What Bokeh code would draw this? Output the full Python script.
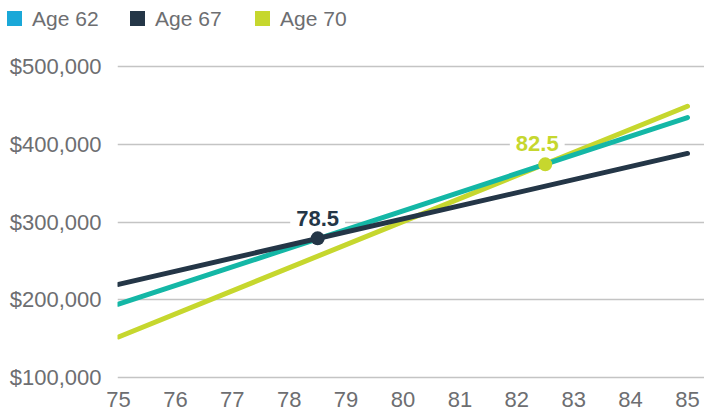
from bokeh.plotting import figure
from bokeh.layouts import column
from bokeh.models import (FixedTicker, NumeralTickFormatter, Label, Range1d, Div)
from bokeh.embed import file_html
from bokeh.resources import INLINE

# ---- data ----
series_names = ["Age 62", "Age 67", "Age 70"]
years = [75, 85]
age62 = [194500, 434000]
age67 = [220000, 388000]
age70 = [152500, 448500]
breakeven_age = [78.5, 82.5]
breakeven_value = [279000, 374000]
breakeven_text = ["78.5", "82.5"]
x_ticks = [75, 76, 77, 78, 79, 80, 81, 82, 83, 84, 85]
y_ticks = [100000, 200000, 300000, 400000, 500000]

# ---- styles ----
line_colors = ["#14b7a6", "#243647", "#c6d72e"]
legend_colors = ["#1aa8d8", "#243647", "#c6d72e"]
label_colors = ["#243647", "#c6d72e"]
grey = "#6d6e71"
FONT = "Liberation Sans"

# ---------- legend strip (HTML) ----------
swatch_left = [7, 130, 255]
parts = []
for i, name in enumerate(series_names):
    x0 = swatch_left[i]
    parts.append(
        f'<span style="position:absolute;left:{x0}px;top:11px;width:15px;height:15px;'
        f'background:{legend_colors[i]};"></span>'
        f'<span style="position:absolute;left:{x0 + 25}px;top:8px;line-height:21px;'
        f'white-space:nowrap;">{name}</span>')
legend_html = (
    f'<div style="position:relative;width:704px;height:30px;overflow:hidden;'
    f'font-family:\'{FONT}\';font-size:21px;color:{grey};">' + "".join(parts) + '</div>')
lg = Div(text=legend_html, width=704, height=30, margin=(0, 0, 0, 0))

# ---------- main chart ----------
p = figure(width=704, height=382, output_backend="svg", toolbar_location=None,
           x_range=Range1d(74.9824, 85.299), y_range=Range1d(87633, 545733),
           min_border_left=117, min_border_right=0, min_border_top=0,
           min_border_bottom=25)
p.outline_line_color = None
p.background_fill_color = "white"
p.border_fill_color = "white"

p.xaxis.ticker = FixedTicker(ticks=x_ticks)
p.yaxis.ticker = FixedTicker(ticks=y_ticks)
p.yaxis.formatter = NumeralTickFormatter(format="$0,0")
for ax in (p.xaxis, p.yaxis):
    ax.axis_line_color = None
    ax.major_tick_line_color = None
    ax.minor_tick_line_color = None
    ax.major_tick_out = 0
    ax.major_tick_in = 0
    ax.major_label_text_font = FONT
    ax.major_label_text_font_size = "22px"
    ax.major_label_text_color = grey
p.yaxis.major_label_standoff = 16
p.xaxis.major_label_standoff = 4
p.xgrid.grid_line_color = None
p.ygrid.grid_line_color = "#c4c4c4"
p.ygrid.grid_line_width = 1.5

series = [age62, age67, age70]
for idx in (2, 0, 1):
    p.line(years, series[idx], line_color=line_colors[idx],
           line_width=5, line_cap="round")

for i in range(len(breakeven_age)):
    lab = Label(x=breakeven_age[i], y=breakeven_value[i], text=breakeven_text[i],
                x_offset=(0 if i == 0 else -8), y_offset=(20 if i == 0 else 21),
                text_align="center", text_baseline="middle",
                text_font=FONT, text_font_style="bold", text_font_size="22px",
                text_color=label_colors[i], background_fill_color="white",
                padding=6, level="underlay")
    p.add_layout(lab)

p.scatter(breakeven_age, breakeven_value, size=14, fill_color=label_colors,
          line_color=None)

layout = column(lg, p, spacing=0)
open("out.html", "w").write(file_html(layout, INLINE))
